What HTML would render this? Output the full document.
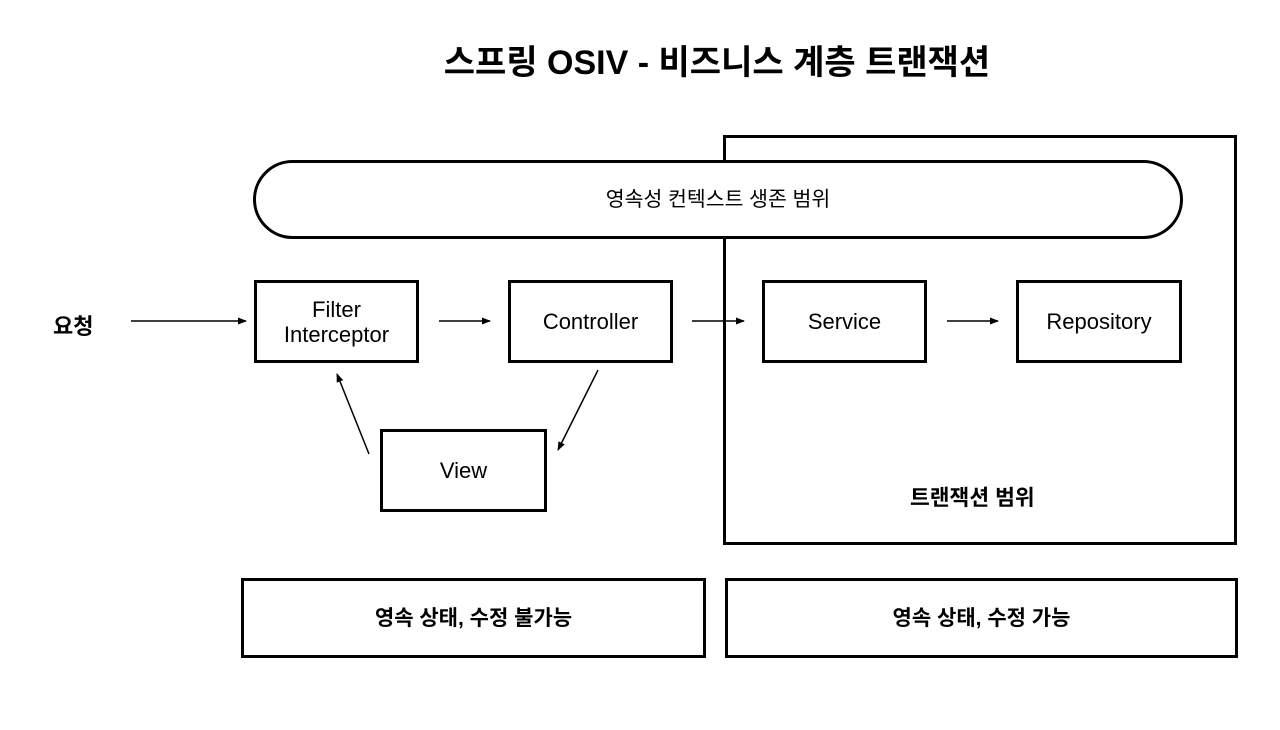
<!DOCTYPE html>
<html><head><meta charset="utf-8"><style>
html,body{margin:0;padding:0;background:#fff;}
body{width:1280px;height:730px;position:relative;overflow:hidden;font-family:"Liberation Sans","Noto Sans CJK KR",sans-serif;color:#000;}
.b{position:absolute;box-sizing:border-box;border:3px solid #000;display:flex;align-items:center;justify-content:center;text-align:center;font-size:21px;line-height:25px;}
.t{position:absolute;white-space:nowrap;}
</style></head><body>
<div class="t" style="left:0;width:1434px;top:35px;text-align:center;font-size:34px;font-weight:bold;">스프링 OSIV - 비즈니스 계층 트랜잭션</div>
<div class="b" style="left:723px;top:135px;width:514px;height:410px;"></div>
<div class="b" style="left:253px;top:160px;width:930px;height:79px;border-radius:40px;font-size:20.5px;background:#fff;">영속성 컨텍스트 생존 범위</div>
<div class="b" style="left:254px;top:280px;width:165px;height:83px;font-size:22px;">Filter<br>Interceptor</div>
<div class="b" style="left:508px;top:280px;width:165px;height:83px;font-size:22px;">Controller</div>
<div class="b" style="left:762px;top:280px;width:165px;height:83px;font-size:22px;">Service</div>
<div class="b" style="left:1016px;top:280px;width:166px;height:83px;font-size:22px;">Repository</div>
<div class="b" style="left:380px;top:429px;width:167px;height:83px;font-size:22px;">View</div>
<div class="t" style="left:53px;top:309px;font-size:22px;font-weight:bold;">요청</div>
<div class="t" style="left:910px;top:481px;font-size:21.5px;font-weight:bold;">트랜잭션 범위</div>
<div class="b" style="left:241px;top:578px;width:465px;height:80px;font-size:21px;font-weight:bold;">영속 상태, 수정 불가능</div>
<div class="b" style="left:725px;top:578px;width:513px;height:80px;font-size:21px;font-weight:bold;">영속 상태, 수정 가능</div>
<svg width="1280" height="730" style="position:absolute;left:0;top:0">
<defs><marker id="a" markerWidth="9" markerHeight="7" refX="8" refY="3.5" orient="auto" markerUnits="userSpaceOnUse"><path d="M0,0 L9,3.5 L0,7 z" fill="#000"/></marker></defs>
<g stroke="#000" stroke-width="1.5" fill="none" marker-end="url(#a)">
<line x1="131" y1="321" x2="246" y2="321"/>
<line x1="439" y1="321" x2="490" y2="321"/>
<line x1="692" y1="321" x2="744" y2="321"/>
<line x1="947" y1="321" x2="998" y2="321"/>
<line x1="598" y1="370" x2="558" y2="450"/>
<line x1="369" y1="454" x2="337" y2="374"/>
</g></svg>
</body></html>
